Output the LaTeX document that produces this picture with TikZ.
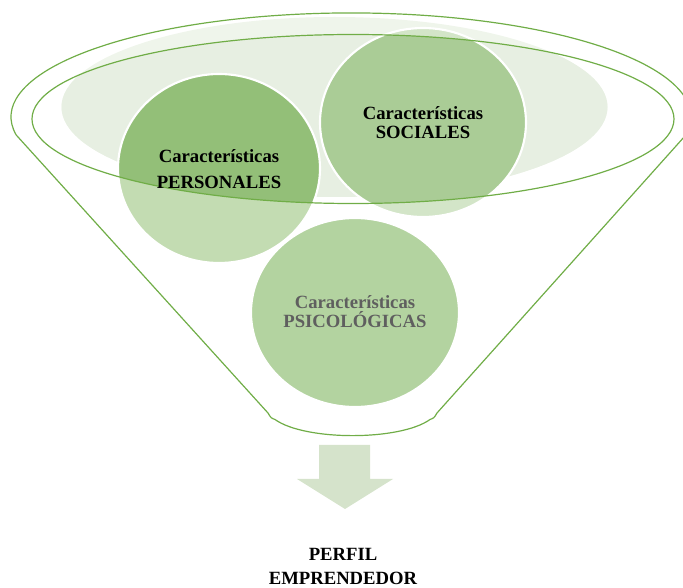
\documentclass[tikz,border=0pt]{standalone}
\usepackage{fontspec}
\setmainfont{Liberation Serif}
\begin{document}
\begin{tikzpicture}[x=0.75pt,y=-0.75pt,
  funnelline/.style={draw=fgreen,line width=0.9pt},
  disc/.style={draw=white,line width=1.6pt},
  lbl/.style={anchor=base,inner sep=0pt,font=\fontsize{14}{16}\selectfont\bfseries}]
\definecolor{fgreen}{HTML}{70AD47}
\definecolor{bglight}{HTML}{EFF5EB}
\definecolor{bgdark}{HTML}{E7EFE2}
\definecolor{perlight}{HTML}{C3DCB2}
\definecolor{perdark}{HTML}{93BF78}
\definecolor{soclight}{HTML}{D3E5C8}
\definecolor{socdark}{HTML}{AACC96}
\definecolor{psicol}{HTML}{B3D3A0}
\definecolor{arrowc}{HTML}{D5E3CB}
\definecolor{psitext}{HTML}{5F5F5F}
\useasboundingbox (0,0) rectangle (683,588);
% centres
\coordinate (bgc) at (334.5,107);
\coordinate (inc) at (353,119);
\coordinate (perc) at (219,168.5);
\coordinate (socc) at (423,122.5);
\coordinate (psic) at (355,312.5);
% light layer
\fill[bglight] (bgc) ellipse [x radius=204.75pt, y radius=67.5pt];
\filldraw[disc,fill=perlight] (perc) ellipse [x radius=75.75pt, y radius=70.875pt];
\filldraw[disc,fill=soclight] (socc) ellipse [x radius=77.25pt, y radius=70.875pt];
\filldraw[disc,fill=psicol] (psic) ellipse [x radius=78pt, y radius=70.875pt];
% darker layer inside the funnel mouth
\begin{scope}
  \clip (inc) ellipse [x radius=240.75pt, y radius=63.375pt];
  \fill[bgdark] (bgc) ellipse [x radius=204.75pt, y radius=67.5pt];
  \filldraw[disc,fill=perdark] (perc) ellipse [x radius=75.75pt, y radius=70.875pt];
  \filldraw[disc,fill=socdark] (socc) ellipse [x radius=77.25pt, y radius=70.875pt];
\end{scope}
% funnel outlines
\draw[funnelline] (inc) ellipse [x radius=240.75pt, y radius=63.375pt];
\draw[funnelline] (16.2,135) arc [start angle=190, end angle=-10, x radius=255pt, y radius=78pt]
  -- (437,413) .. controls (434,418) .. (430,419.5)
  .. controls (400,441) and (305,441) .. (275,419.5)
  .. controls (271,418) .. (268,413) -- cycle;
% arrow
\fill[arrowc] (319,445) -- (370,445) -- (370,479) -- (393,479) -- (345,509) -- (297,479) -- (319,479) -- cycle;
% texts
\node[lbl] (per1) at (219,163) {Características};
\node[lbl] (per2) at (219,189) {PERSONALES};
\node[lbl] (soc1) at (423,120) {Características};
\node[lbl] (soc2) at (423,139) {SOCIALES};
\node[lbl,text=psitext] (psi1) at (355,309) {Características};
\node[lbl,text=psitext] (psi2) at (355,328) {PSICOLÓGICAS};
\node[lbl] (out1) at (343,560) {PERFIL};
\node[lbl] (out2) at (343,584.5) {EMPRENDEDOR};
\end{tikzpicture}
\end{document}
